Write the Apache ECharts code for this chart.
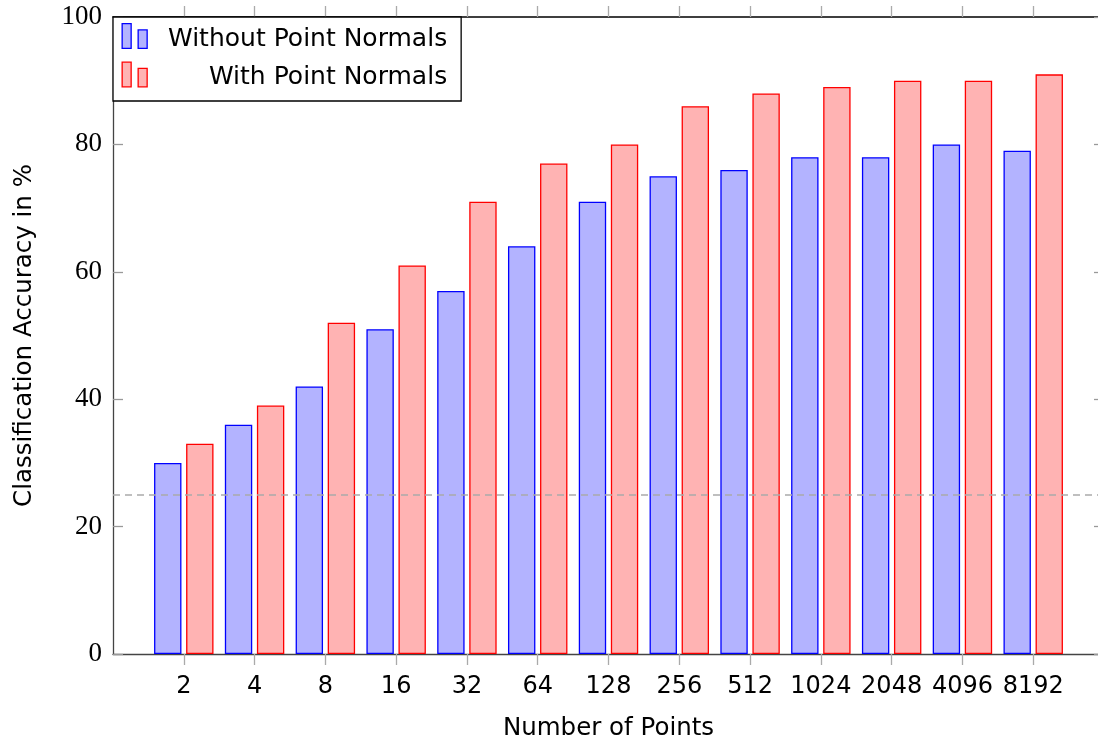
<!DOCTYPE html>
<html>
<head>
<meta charset="utf-8">
<script src="https://cdn.jsdelivr.net/npm/echarts@6/dist/echarts.min.js"></script>
<style>
  html, body { margin: 0; padding: 0; background: #fff; }
  #chart { width: 1098px; height: 740px; }
</style>
</head>
<body>
<div id="chart"></div>
<script>
const categories = ['2', '4', '8', '16', '32', '64', '128', '256', '512', '1024', '2048', '4096', '8192'];
const withoutNormals = [30, 36, 42, 51, 57, 64, 71, 75, 76, 78, 78, 80, 79];
const withNormals = [33, 39, 52, 61, 71, 77, 80, 86, 88, 89, 90, 90, 91];
const chanceLevel = 25;
const yTicks = [0, 20, 40, 60, 80, 100];

const positions = categories.map((c, i) => i + 1);
const toPoints = vals => vals.map((v, i) => [positions[i], v]);

const legendIcon = 'path://M0,0 L9,0 L9,24.7 L0,24.7 Z M16,6.3 L25,6.3 L25,24.7 L16,24.7 Z';

const sans = 'DejaVu Sans';
const serif = 'Liberation Serif';

const chart = echarts.init(document.getElementById('chart'), null, { renderer: 'canvas' });
chart.setOption({
  animation: false,
  backgroundColor: '#fff',
  grid: { left: 113, top: 17, width: 991, height: 637, containLabel: false, outerBoundsMode: 'none' },
  legend: {
    left: 113, top: 17,
    orient: 'vertical',
    padding: [6, 14, 11, 8.5],
    itemGap: 10,
    itemWidth: 25, itemHeight: 25,
    backgroundColor: '#fff',
    borderColor: '#000', borderWidth: 1.3,
    selectedMode: false,
    icon: legendIcon,
    formatter: name => '{t|' + name + '}',
    textStyle: {
      fontFamily: sans, fontSize: 25, color: '#000',
      rich: { t: { fontFamily: sans, fontSize: 25, width: 295, align: 'right', padding: [6, 0, 0, 0] } }
    },
    data: [
      { name: 'Without Point Normals', itemStyle: { color: '#b3b3ff', borderColor: '#0000ff', borderWidth: 1.3 } },
      { name: 'With Point Normals', itemStyle: { color: '#ffb3b3', borderColor: '#ff0000', borderWidth: 1.3 } }
    ]
  },
  xAxis: [
    {
      type: 'value', position: 'bottom', min: 0, max: 14, interval: 1,
      name: 'Number of Points', nameLocation: 'middle', nameGap: 62,
      nameTextStyle: { fontFamily: sans, fontSize: 24.5, color: '#000' },
      axisLine: { show: true, onZero: false, lineStyle: { color: '#444', width: 1.3 } },
      axisTick: { show: true, inside: false, length: 11, customValues: positions, lineStyle: { color: '#aaa', width: 1.3 } },
      axisLabel: {
        show: true, margin: 21, customValues: positions,
        fontFamily: sans, fontSize: 24, color: '#000',
        formatter: v => categories[v - 1] || ''
      },
      splitLine: { show: false }
    },
    {
      type: 'value', position: 'top', min: 0, max: 14, interval: 1,
      axisLine: { show: true, onZero: false, lineStyle: { color: '#000', width: 1.5 } },
      axisTick: { show: true, inside: false, length: 11, customValues: positions, lineStyle: { color: '#aaa', width: 1.3 } },
      axisLabel: { show: false },
      splitLine: { show: false }
    }
  ],
  yAxis: [
    {
      type: 'value', position: 'left', min: 0, max: 100, interval: 20,
      name: 'Classification Accuracy in %', nameLocation: 'middle', nameGap: 76,
      nameTextStyle: { fontFamily: sans, fontSize: 24.5, color: '#000' },
      axisLine: { show: true, onZero: false, lineStyle: { color: '#444', width: 1.3 } },
      axisTick: { show: true, inside: true, length: 10, lineStyle: { color: '#999', width: 1.3 } },
      axisLabel: { show: true, margin: 11, fontFamily: serif, fontSize: 27, color: '#000',
        formatter: v => (yTicks.indexOf(v) >= 0 ? String(v) : '') },
      splitLine: { show: false }
    },
    {
      type: 'value', position: 'right', min: 0, max: 100, interval: 20,
      axisLine: { show: true, onZero: false, lineStyle: { color: '#444', width: 1.3 } },
      axisTick: { show: true, inside: true, length: 10, lineStyle: { color: '#999', width: 1.3 } },
      axisLabel: { show: false },
      splitLine: { show: false }
    }
  ],
  series: [
    {
      name: 'Without Point Normals', type: 'bar', xAxisIndex: 0, yAxisIndex: 0,
      barWidth: 27.4, barGap: '17%',
      itemStyle: { color: '#b3b3ff', borderColor: '#0000ff', borderWidth: 1.3 },
      data: toPoints(withoutNormals),
      z: 2,
      markLine: {
        silent: true, symbol: 'none', label: { show: false },
        lineStyle: { color: '#aaaaaa', type: [7, 5], width: 1.5 },
        data: [{ yAxis: chanceLevel }]
      }
    },
    {
      name: 'With Point Normals', type: 'bar', xAxisIndex: 0, yAxisIndex: 0,
      barWidth: 27.4, barGap: '17%',
      itemStyle: { color: '#ffb3b3', borderColor: '#ff0000', borderWidth: 1.3 },
      data: toPoints(withNormals),
      z: 2
    }
  ]
});
</script>
</body>
</html>
